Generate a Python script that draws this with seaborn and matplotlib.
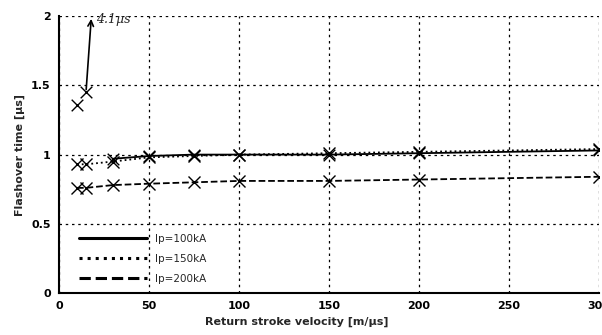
import numpy as np
import matplotlib
matplotlib.use("Agg")
import matplotlib.pyplot as plt
from matplotlib.lines import Line2D
import seaborn as sns
import pandas as pd

sns.set_style("white")
plt.rcParams['font.family'] = ['DejaVu Sans']

velocity = [10, 15, 30, 50, 75, 100, 150, 200, 300]
t_100kA = [1.36, 1.45, 0.97, 0.99, 1.0, 1.0, 1.0, 1.01, 1.03]
t_150kA = [0.93, 0.93, 0.95, 0.98, 0.99, 1.0, 1.01, 1.02, 1.04]
t_200kA = [0.76, 0.76, 0.78, 0.79, 0.80, 0.81, 0.81, 0.82, 0.84]
labels = ['Ip=100kA', 'Ip=150kA', 'Ip=200kA']
styles = ['-', ':', '--']
off_scale_label = '4.1\u03bcs'

df = pd.DataFrame({'v': velocity * 3,
                   't': t_100kA + t_150kA + t_200kA,
                   'Ip': np.repeat(labels, len(velocity))})

fig = plt.figure(figsize=(6.02, 3.35), dpi=100)
ax = fig.add_axes([0.098, 0.125, 0.897, 0.827])

for lab, ls in zip(labels, styles):
    d = df[df['Ip'] == lab]
    if lab == 'Ip=100kA':
        # first two points are only markers (off the main trend)
        sns.lineplot(data=d.iloc[2:], x='v', y='t', ax=ax, color='k', linestyle=ls,
                     linewidth=1.3, legend=False)
        sns.scatterplot(data=d, x='v', y='t', ax=ax, marker='x', color='k', s=70,
                        linewidth=1.0, legend=False)
    else:
        sns.lineplot(data=d, x='v', y='t', ax=ax, color='k', linestyle=ls,
                     linewidth=1.3, marker='x', markersize=9, markeredgewidth=1.0,
                     markeredgecolor='k', legend=False)

# off-scale value for the 100kA case
ax.annotate('', xy=(18, 2.0), xytext=(velocity[1], t_100kA[1]),
            arrowprops=dict(arrowstyle='->', color='k', lw=1.2))
ax.text(20.5, 1.975, off_scale_label, fontsize=9, family='DejaVu Serif',
        style='italic', va='center', ha='left')

ax.set_xlim(0, 300)
ax.set_ylim(0, 2)
ax.set_xticks(range(0, 301, 50))
ax.set_yticks([0, 0.5, 1, 1.5, 2])
ax.set_yticklabels(['0', '0.5', '1', '1.5', '2'])
ax.grid(True, color='k', linestyle=(0, (2, 3)), linewidth=0.9)
for s in ['top', 'right']:
    ax.spines[s].set_visible(False)
for s in ['left', 'bottom']:
    ax.spines[s].set_color('k')
    ax.spines[s].set_linewidth(1.5)
ax.tick_params(direction='in', length=3, labelsize=8, colors='k', pad=6)
for t in ax.get_xticklabels() + ax.get_yticklabels():
    t.set_fontweight('bold')

ax.set_xlabel('Return stroke velocity [m/\u03bcs]', fontsize=8, fontweight='bold', labelpad=1)
ax.xaxis.set_label_coords(0.44, -0.085)
ax.set_ylabel('Flashover time [\u03bcs]', fontsize=8, fontweight='bold', labelpad=4)

handles = [Line2D([], [], color='k', linestyle=ls, linewidth=2.2) for ls in styles]
ax.legend(handles, labels, loc='lower left', frameon=False, fontsize=7.5,
          handlelength=6.5, bbox_to_anchor=(0.02, 0.0), labelspacing=0.95)

fig.savefig('out.png', dpi=100)
